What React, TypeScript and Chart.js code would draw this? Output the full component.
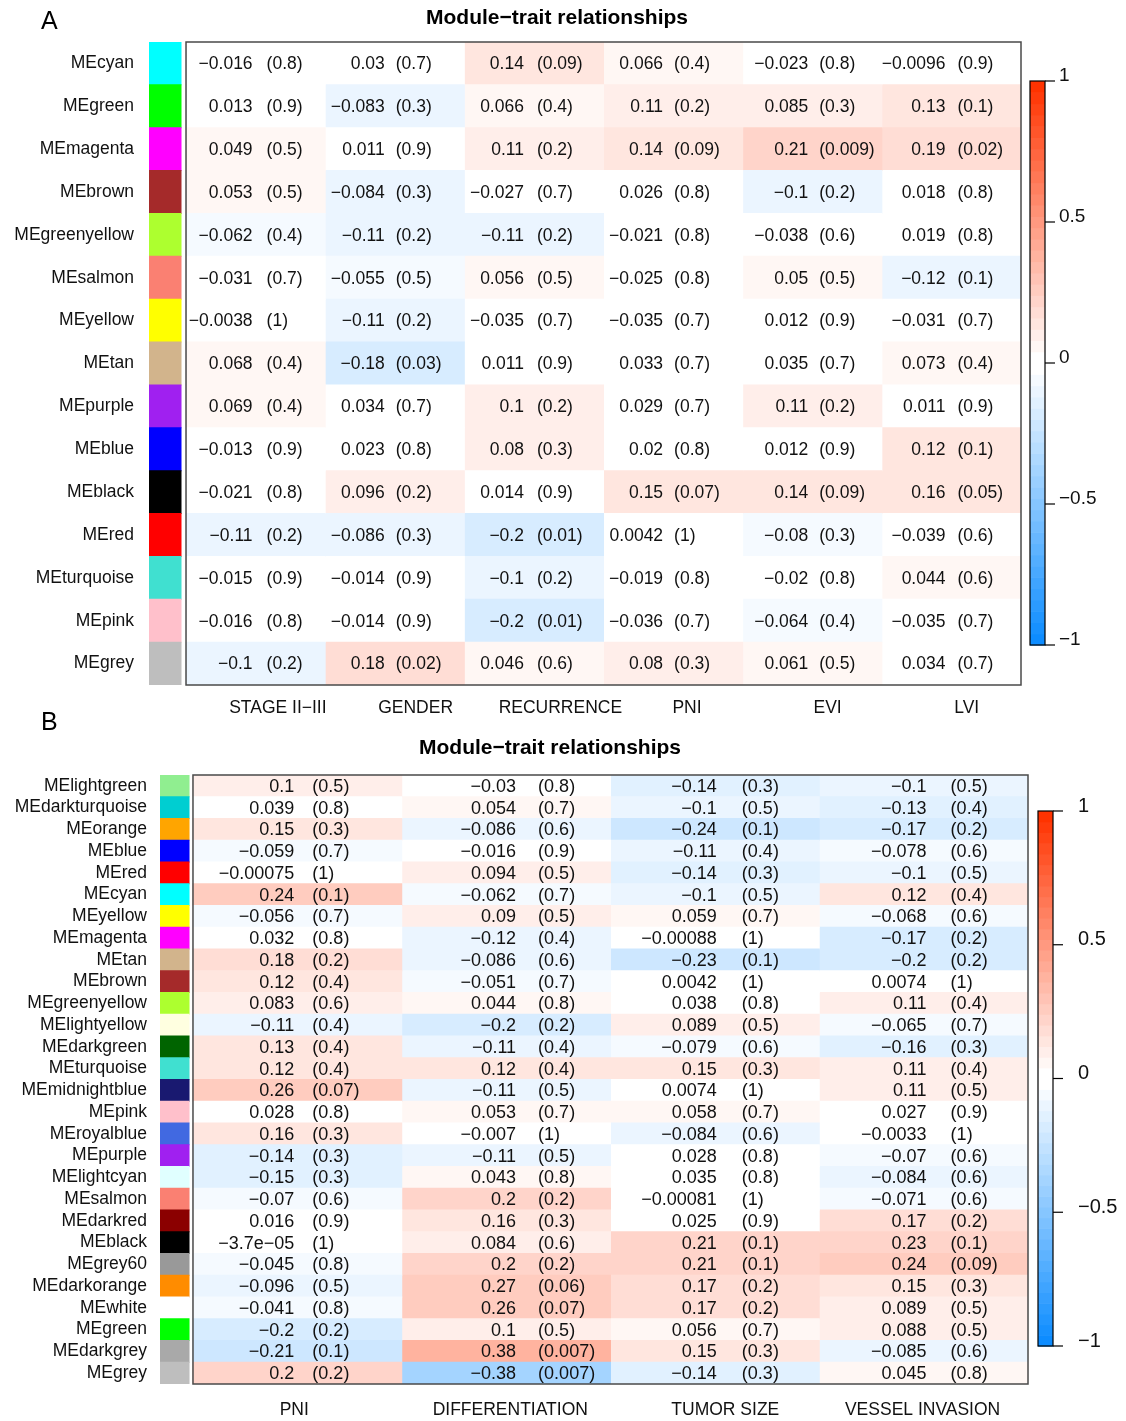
import React, { useEffect, useRef } from "react";
import { Chart, registerables } from "chart.js";
Chart.register(...registerables);

const FONT = '"Liberation Sans", Arial, Helvetica, sans-serif';

// ---------------- Panel A data ----------------
const modulesA = ["MEcyan", "MEgreen", "MEmagenta", "MEbrown", "MEgreenyellow", "MEsalmon", "MEyellow", "MEtan", "MEpurple", "MEblue", "MEblack", "MEred", "MEturquoise", "MEpink", "MEgrey"];
const moduleColorsA = ["#00FFFF", "#00FF00", "#FF00FF", "#A52A2A", "#ADFF2F", "#FA8072", "#FFFF00", "#D2B48C", "#A020F0", "#0000FF", "#000000", "#FF0000", "#40E0D0", "#FFC0CB", "#BEBEBE"];
const traitsA = ["STAGE II\u2212III", "GENDER", "RECURRENCE", "PNI", "EVI", "LVI"];
const stageCorA = [-0.016, 0.013, 0.049, 0.053, -0.062, -0.031, -0.0038, 0.068, 0.069, -0.013, -0.021, -0.11, -0.015, -0.016, -0.1];
const stagePA = [0.8, 0.9, 0.5, 0.5, 0.4, 0.7, 1, 0.4, 0.4, 0.9, 0.8, 0.2, 0.9, 0.8, 0.2];
const genderCorA = [0.03, -0.083, 0.011, -0.084, -0.11, -0.055, -0.11, -0.18, 0.034, 0.023, 0.096, -0.086, -0.014, -0.014, 0.18];
const genderPA = [0.7, 0.3, 0.9, 0.3, 0.2, 0.5, 0.2, 0.03, 0.7, 0.8, 0.2, 0.3, 0.9, 0.9, 0.02];
const recurCorA = [0.14, 0.066, 0.11, -0.027, -0.11, 0.056, -0.035, 0.011, 0.1, 0.08, 0.014, -0.2, -0.1, -0.2, 0.046];
const recurPA = [0.09, 0.4, 0.2, 0.7, 0.2, 0.5, 0.7, 0.9, 0.2, 0.3, 0.9, 0.01, 0.2, 0.01, 0.6];
const pniCorA = [0.066, 0.11, 0.14, 0.026, -0.021, -0.025, -0.035, 0.033, 0.029, 0.02, 0.15, 0.0042, -0.019, -0.036, 0.08];
const pniPA = [0.4, 0.2, 0.09, 0.8, 0.8, 0.8, 0.7, 0.7, 0.7, 0.8, 0.07, 1, 0.8, 0.7, 0.3];
const eviCorA = [-0.023, 0.085, 0.21, -0.1, -0.038, 0.05, 0.012, 0.035, 0.11, 0.012, 0.14, -0.08, -0.02, -0.064, 0.061];
const eviPA = [0.8, 0.3, 0.009, 0.2, 0.6, 0.5, 0.9, 0.7, 0.2, 0.9, 0.09, 0.3, 0.8, 0.4, 0.5];
const lviCorA = [-0.0096, 0.13, 0.19, 0.018, 0.019, -0.12, -0.031, 0.073, 0.011, 0.12, 0.16, -0.039, 0.044, -0.035, 0.034];
const lviPA = [0.9, 0.1, 0.02, 0.8, 0.8, 0.1, 0.7, 0.4, 0.9, 0.1, 0.05, 0.6, 0.6, 0.7, 0.7];

// ---------------- Panel B data ----------------
const modulesB = ["MElightgreen", "MEdarkturquoise", "MEorange", "MEblue", "MEred", "MEcyan", "MEyellow", "MEmagenta", "MEtan", "MEbrown", "MEgreenyellow", "MElightyellow", "MEdarkgreen", "MEturquoise", "MEmidnightblue", "MEpink", "MEroyalblue", "MEpurple", "MElightcyan", "MEsalmon", "MEdarkred", "MEblack", "MEgrey60", "MEdarkorange", "MEwhite", "MEgreen", "MEdarkgrey", "MEgrey"];
const moduleColorsB = ["#90EE90", "#00CED1", "#FFA500", "#0000FF", "#FF0000", "#00FFFF", "#FFFF00", "#FF00FF", "#D2B48C", "#A52A2A", "#ADFF2F", "#FFFFE0", "#006400", "#40E0D0", "#191970", "#FFC0CB", "#4169E1", "#A020F0", "#E0FFFF", "#FA8072", "#8B0000", "#000000", "#999999", "#FF8C00", "#FFFFFF", "#00FF00", "#A9A9A9", "#BEBEBE"];
const traitsB = ["PNI", "DIFFERENTIATION", "TUMOR SIZE", "VESSEL INVASION"];
const pniCorB = [0.1, 0.039, 0.15, -0.059, -0.00075, 0.24, -0.056, 0.032, 0.18, 0.12, 0.083, -0.11, 0.13, 0.12, 0.26, 0.028, 0.16, -0.14, -0.15, -0.07, 0.016, -3.7e-5, -0.045, -0.096, -0.041, -0.2, -0.21, 0.2];
const pniPB = [0.5, 0.8, 0.3, 0.7, 1, 0.1, 0.7, 0.8, 0.2, 0.4, 0.6, 0.4, 0.4, 0.4, 0.07, 0.8, 0.3, 0.3, 0.3, 0.6, 0.9, 1, 0.8, 0.5, 0.8, 0.2, 0.1, 0.2];
const diffCorB = [-0.03, 0.054, -0.086, -0.016, 0.094, -0.062, 0.09, -0.12, -0.086, -0.051, 0.044, -0.2, -0.11, 0.12, -0.11, 0.053, -0.007, -0.11, 0.043, 0.2, 0.16, 0.084, 0.2, 0.27, 0.26, 0.1, 0.38, -0.38];
const diffPB = [0.8, 0.7, 0.6, 0.9, 0.5, 0.7, 0.5, 0.4, 0.6, 0.7, 0.8, 0.2, 0.4, 0.4, 0.5, 0.7, 1, 0.5, 0.8, 0.2, 0.3, 0.6, 0.2, 0.06, 0.07, 0.5, 0.007, 0.007];
const sizeCorB = [-0.14, -0.1, -0.24, -0.11, -0.14, -0.1, 0.059, -0.00088, -0.23, 0.0042, 0.038, 0.089, -0.079, 0.15, 0.0074, 0.058, -0.084, 0.028, 0.035, -0.00081, 0.025, 0.21, 0.21, 0.17, 0.17, 0.056, 0.15, -0.14];
const sizePB = [0.3, 0.5, 0.1, 0.4, 0.3, 0.5, 0.7, 1, 0.1, 1, 0.8, 0.5, 0.6, 0.3, 1, 0.7, 0.6, 0.8, 0.8, 1, 0.9, 0.1, 0.1, 0.2, 0.2, 0.7, 0.3, 0.3];
const vesselCorB = [-0.1, -0.13, -0.17, -0.078, -0.1, 0.12, -0.068, -0.17, -0.2, 0.0074, 0.11, -0.065, -0.16, 0.11, 0.11, 0.027, -0.0033, -0.07, -0.084, -0.071, 0.17, 0.23, 0.24, 0.15, 0.089, 0.088, -0.085, 0.045];
const vesselPB = [0.5, 0.4, 0.2, 0.6, 0.5, 0.4, 0.6, 0.2, 0.2, 1, 0.4, 0.7, 0.3, 0.4, 0.5, 0.9, 1, 0.6, 0.6, 0.6, 0.2, 0.1, 0.09, 0.3, 0.5, 0.5, 0.6, 0.8];

const colorbarTicks = [1, 0.5, 0, -0.5, -1];

// ---------------- colour map (blue-white-red, 50 steps) ----------------
const N_COL = 50;
function buildPalette(n: number): string[] {
  const blueEnd = [0.05, 0.55, 1.0];
  const redEnd = [1.0, 0.2, 0.0];
  const half = n / 2;
  const out: string[] = [];
  for (let i = 0; i < n; i++) {
    let rgb: number[];
    if (i < half) {
      const f = i / (half - 1);
      rgb = blueEnd.map((b) => b + (1 - b) * f);
    } else {
      const f = 1 - (i - half) / (half - 1);
      rgb = redEnd.map((r) => r + (1 - r) * f);
    }
    out.push(`rgb(${rgb.map((c) => Math.round(c * 255)).join(",")})`);
  }
  return out;
}
const PALETTE = buildPalette(N_COL);
function colorFor(v: number): string {
  let k = Math.floor(((v + 1) / 2) * N_COL);
  if (k < 0) k = 0;
  if (k > N_COL - 1) k = N_COL - 1;
  return PALETTE[k];
}

const MINUS = "\u2212";
function fmtVal(v: number): string {
  let s: string;
  if (v !== 0 && Math.abs(v) < 1e-4) {
    s = v.toExponential(1).replace(/e([+-])(\d)$/, "e$10$2");
  } else {
    s = String(v);
  }
  return s.replace(/-/g, MINUS);
}

interface PanelCfg {
  canvasH: number;
  modules: string[];
  moduleColors: string[];
  traits: string[];
  cors: number[][];
  ps: number[][];
  padTop: number;
  padRight: number;
  xAxisH: number;
  yAxisW: number;
  yLabelPad: number;
  xLabelPad: number;
  swL: number;
  swR: number;
  valOff: number[];
  pOff: number[];
  xLabelShift: number[];
  cellFont: number;
  rowFont: number;
  xFont: number;
  titleX: number;
  titleY: number;
  letter: string;
  letterX: number;
  letterY: number;
  cb: { left: number; right: number; top: number; bottom: number; tickEnd: number; labelX: number; font: number };
}

function makePlugin(cfg: PanelCfg) {
  return {
    id: "panelDecor" + cfg.letter,
    afterDatasetsDraw(chart: any) {
      const ctx = chart.ctx as CanvasRenderingContext2D;
      const xs = chart.scales.x;
      const ys = chart.scales.y;
      const area = chart.chartArea;
      ctx.save();
      ctx.fillStyle = "#111";
      ctx.font = `${cfg.cellFont}px ${FONT}`;
      ctx.textBaseline = "middle";
      cfg.traits.forEach((_t, j) => {
        const cx = xs.getPixelForValue(j + 0.5);
        cfg.cors[j].forEach((v, i) => {
          const cy = ys.getPixelForValue(i) + 1;
          ctx.textAlign = "right";
          ctx.fillText(fmtVal(v), cx + cfg.valOff[j], cy);
          ctx.textAlign = "left";
          ctx.fillText("(" + String(cfg.ps[j][i]) + ")", cx + cfg.pOff[j], cy);
        });
      });
      // heatmap frame
      const l = xs.getPixelForValue(0);
      const r = xs.getPixelForValue(cfg.traits.length);
      ctx.strokeStyle = "#4a4a4a";
      ctx.lineWidth = 1.5;
      ctx.strokeRect(l, area.top, r - l, area.bottom - area.top);
      ctx.restore();
    },
    afterDraw(chart: any) {
      const ctx = chart.ctx as CanvasRenderingContext2D;
      ctx.save();
      // title
      ctx.fillStyle = "#000";
      ctx.font = `bold 21px ${FONT}`;
      ctx.textAlign = "center";
      ctx.textBaseline = "middle";
      ctx.fillText("Module\u2212trait relationships", cfg.titleX, cfg.titleY);
      // panel letter
      ctx.font = `25px ${FONT}`;
      ctx.textAlign = "left";
      ctx.fillText(cfg.letter, cfg.letterX, cfg.letterY);
      // colour bar
      const cb = cfg.cb;
      const H = cb.bottom - cb.top;
      for (let k = 0; k < N_COL; k++) {
        const y1 = cb.bottom - (k / N_COL) * H;
        const y0 = cb.bottom - ((k + 1) / N_COL) * H;
        ctx.fillStyle = PALETTE[k];
        ctx.fillRect(cb.left, y0, cb.right - cb.left, y1 - y0 + 0.6);
      }
      ctx.strokeStyle = "#000";
      ctx.lineWidth = 1.2;
      ctx.strokeRect(cb.left, cb.top, cb.right - cb.left, H);
      ctx.fillStyle = "#111";
      ctx.font = `${cb.font}px ${FONT}`;
      ctx.textAlign = "left";
      ctx.textBaseline = "middle";
      colorbarTicks.forEach((t) => {
        const y = cb.bottom - ((t + 1) / 2) * H;
        ctx.beginPath();
        ctx.moveTo(cb.right, y);
        ctx.lineTo(cb.tickEnd, y);
        ctx.stroke();
        ctx.fillText(String(t).replace("-", MINUS), cb.labelX, y - 5);
      });
      ctx.restore();
    },
  };
}

function buildConfig(cfg: PanelCfg): any {
  const n = cfg.traits.length;
  const datasets: any[] = cfg.traits.map((t, j) => ({
    label: t,
    data: cfg.modules.map(() => [j, j + 1]),
    backgroundColor: cfg.cors[j].map(colorFor),
    borderWidth: 0,
    barPercentage: 1,
    categoryPercentage: 1,
    grouped: false,
    inflateAmount: 0.5,
  }));
  datasets.push({
    label: "module",
    data: cfg.modules.map(() => [cfg.swL, cfg.swR]),
    backgroundColor: cfg.moduleColors,
    borderWidth: 0,
    barPercentage: 1,
    categoryPercentage: 1,
    grouped: false,
    inflateAmount: 0.5,
  });
  return {
    type: "bar",
    data: { labels: cfg.modules, datasets },
    plugins: [makePlugin(cfg)],
    options: {
      indexAxis: "y",
      responsive: false,
      animation: false,
      events: [],
      layout: { padding: { top: cfg.padTop, right: cfg.padRight, bottom: 0, left: 0 } },
      plugins: { legend: { display: false }, tooltip: { enabled: false }, title: { display: false } },
      scales: {
        x: {
          type: "linear",
          position: "bottom",
          min: cfg.swL,
          max: n,
          bounds: "data",
          grid: { display: false, drawTicks: false },
          border: { display: false },
          afterBuildTicks: (s: any) => {
            s.ticks = cfg.traits.map((_t, j) => ({ value: j + 0.5 + cfg.xLabelShift[j] }));
          },
          afterFit: (s: any) => {
            s.height = cfg.xAxisH;
          },
          ticks: {
            autoSkip: false,
            maxRotation: 0,
            minRotation: 0,
            padding: cfg.xLabelPad,
            color: "#111",
            font: { family: FONT, size: cfg.xFont },
            callback: (_v: any, i: number) => cfg.traits[i],
          },
        },
        y: {
          type: "category",
          position: "left",
          offset: true,
          grid: { display: false, drawTicks: false },
          border: { display: false },
          afterFit: (s: any) => {
            s.width = cfg.yAxisW;
          },
          ticks: {
            autoSkip: false,
            padding: cfg.yLabelPad,
            color: "#111",
            font: { family: FONT, size: cfg.rowFont },
          },
        },
      },
    },
  };
}

const panelA: PanelCfg = {
  canvasH: 720,
  modules: modulesA,
  moduleColors: moduleColorsA,
  traits: traitsA,
  cors: [stageCorA, genderCorA, recurCorA, pniCorA, eviCorA, lviCorA],
  ps: [stagePA, genderPA, recurPA, pniPA, eviPA, lviPA],
  padTop: 42,
  padRight: 105,
  xAxisH: 35,
  yAxisW: 149,
  yLabelPad: 15,
  xLabelPad: 13,
  swL: -0.266,
  swR: -0.036,
  valOff: [-3, -10, -10, -10, -4, -6],
  pOff: [11, 1, 3, 1, 7, 6],
  xLabelShift: [0.16, 0.15, 0.19, 0.1, 0.11, 0.11],
  cellFont: 17.5,
  rowFont: 17.5,
  xFont: 17.5,
  titleX: 557,
  titleY: 18,
  letter: "A",
  letterX: 41,
  letterY: 22,
  cb: { left: 1030, right: 1045, top: 81, bottom: 645, tickEnd: 1055, labelX: 1059, font: 19 },
};

const panelB: PanelCfg = {
  canvasH: 721,
  modules: modulesB,
  moduleColors: moduleColorsB,
  traits: traitsB,
  cors: [pniCorB, diffCorB, sizeCorB, vesselCorB],
  ps: [pniPB, diffPB, sizePB, vesselPB],
  padTop: 75,
  padRight: 98,
  xAxisH: 37,
  yAxisW: 160,
  yLabelPad: 13,
  xLabelPad: 16,
  swL: -0.158,
  swR: -0.019,
  valOff: [-3, 10, 2, 3],
  pOff: [15, 32, 27, 27],
  xLabelShift: [-0.015, 0.02, 0.05, -0.005],
  cellFont: 18,
  rowFont: 17.5,
  xFont: 17.5,
  titleX: 550,
  titleY: 48,
  letter: "B",
  letterX: 41,
  letterY: 23,
  cb: { left: 1038, right: 1053, top: 111, bottom: 646, tickEnd: 1063, labelX: 1078, font: 20 },
};

export default function App() {
  const refA = useRef<HTMLCanvasElement>(null);
  const refB = useRef<HTMLCanvasElement>(null);
  useEffect(() => {
    const a = new Chart(refA.current as HTMLCanvasElement, buildConfig(panelA));
    const b = new Chart(refB.current as HTMLCanvasElement, buildConfig(panelB));
    return () => {
      a.destroy();
      b.destroy();
    };
  }, []);
  return (
    <div style={{ position: "absolute", left: 0, top: 0, width: 1126, height: 1421, background: "#fff", overflow: "hidden" }}>
      <canvas ref={refA} width={1126} height={panelA.canvasH} style={{ position: "absolute", left: 0, top: 0, display: "block" }} />
      <canvas ref={refB} width={1126} height={panelB.canvasH} style={{ position: "absolute", left: 0, top: 700, display: "block" }} />
    </div>
  );
}
